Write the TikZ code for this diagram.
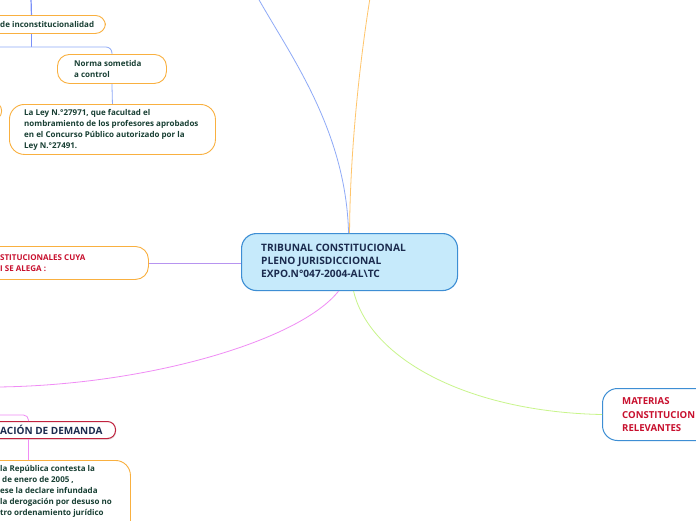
\documentclass[tikz,border=0pt]{standalone}
\usepackage{fontspec}
\setmainfont{Open Sans}
\usetikzlibrary{calc,shadows}
\definecolor{borange}{HTML}{F9B040}
\definecolor{tgreen}{HTML}{183F33}
\definecolor{tnavy}{HTML}{1B2B4E}
\definecolor{tred}{HTML}{C8102E}
\definecolor{cfill}{HTML}{C6EAFB}
\definecolor{cborder}{HTML}{3D8ED4}
\definecolor{lblue}{HTML}{8FAAF7}
\definecolor{lorange}{HTML}{FFC56B}
\definecolor{lpink}{HTML}{F08CF5}
\definecolor{lgreen}{HTML}{C8F58A}
\definecolor{lpurple}{HTML}{B794F0}
\definecolor{dred}{HTML}{C0223E}
\tikzset{
  obox/.style={draw=borange, line width=0.9pt, rounded corners=10pt, fill=white, inner sep=0pt},
  cbox/.style={draw=cborder, line width=1.1pt, rounded corners=15pt, fill=cfill, inner sep=0pt},
  mbox/.style={draw=cborder, line width=1pt, rounded corners=15pt, fill=white, inner sep=0pt},
  dbox/.style={draw=dred, line width=1pt, rounded corners=8pt, fill=white, inner sep=0pt,
     drop shadow={opacity=0.25, shadow xshift=0.6pt, shadow yshift=-1.2pt}},
  stxt/.style={font=\fontsize{8}{11}\selectfont\bfseries, text=tgreen, align=left, inner sep=0pt, anchor=west},
  rtxt/.style={font=\fontsize{8}{11}\selectfont\bfseries, text=tred, align=left, inner sep=0pt, anchor=west},
  ctxt/.style={font=\fontsize{10.2}{13}\selectfont\bfseries, text=tnavy, align=left, inner sep=0pt, anchor=west},
  mtxt/.style={font=\fontsize{9.6}{13.5}\selectfont\bfseries, text=tred, align=left, inner sep=0pt, anchor=west},
  dtxt/.style={font=\fontsize{10}{11}\selectfont\bfseries, text=tnavy, inner sep=0pt, anchor=west},
  bl/.style={draw=lblue, line width=0.8pt},
  blv/.style={draw=lblue!85!blue, line width=1.2pt},
  ol/.style={draw=lorange, line width=0.8pt},
  pl/.style={draw=lpink, line width=0.8pt},
  gl/.style={draw=lgreen, line width=0.8pt},
  ul/.style={draw=lpurple, line width=0.8pt},
}
\begin{document}
\begin{tikzpicture}[x=1pt,y=-1pt]
\useasboundingbox (0,0) rectangle (696,520);
\clip (0,0) rectangle (696,520);
\fill[white] (0,0) rectangle (696,520);

% free ends
\coordinate (topA) at (31,-2);
\coordinate (lftA) at (-2,47);
\coordinate (lftB) at (-2,415);
\coordinate (topBlue) at (258,-2);
\coordinate (topOrange) at (370,-2);
\coordinate (lftPink) at (-2,387);

% boxes
\node[obox, minimum width=148pt, minimum height=18pt, anchor=north west] (inc) at (-43,15) {};
\node[obox, minimum width=109pt, minimum height=29pt, rounded corners=12pt, anchor=north west] (norma) at (57,54) {};
\node[obox, minimum width=206pt, minimum height=50pt, rounded corners=15pt, anchor=north west] (ley) at (9,104) {};
\node[obox, minimum width=70pt, minimum height=17pt, rounded corners=8pt, anchor=north east] (prev) at (2,102) {};
\node[obox, minimum width=208pt, minimum height=33pt, rounded corners=13pt, anchor=north west] (normas) at (-60,246) {};
\node[cbox, minimum width=216pt, minimum height=57pt, anchor=north west] (central) at (241,233) {};
\node[mbox, minimum width=130pt, minimum height=52pt, anchor=north west] (mat) at (602,388) {};
\node[dbox, minimum width=174pt, minimum height=17pt, anchor=north west] (dem) at (-59,421) {};
\node[obox, minimum width=204pt, minimum height=100pt, rounded corners=15pt, anchor=north west] (cont) at (-74,460) {};

% texts
\node[stxt] (incT) at (0,24) {de inconstitucionalidad};
\node[stxt] (normaT) at (74,69) {Norma sometida\\a control};
\node[stxt] (leyT) at (24,130) {La Ley N.°27971, que facultad el\\nombramiento de los profesores aprobados\\en el Concurso Público autorizado por la\\Ley N.°27491.};
\node[rtxt] (normasT) at (0,263) {STITUCIONALES CUYA\\I SE ALEGA :};
\node[ctxt] (centralT) at (261,261) {TRIBUNAL CONSTITUCIONAL\\PLENO JURISDICCIONAL\\EXPO.N°047-2004-AL\textbackslash TC};
\node[mtxt] (matT) at (622,415) {MATERIAS\\CONSTITUCION\\RELEVANTES};
\node[dtxt] (demT) at (0,430) {ACIÓN DE DEMANDA};
\node[stxt] (contT) at (0,491) {la República contesta la\\\hspace*{2pt}de enero de 2005 ,\\ese la declare infundada\\la derogación por desuso no\\tro ordenamiento jurídico};

% connectors
\draw[blv] (topA) -- (inc.north);
\draw[blv] (inc.south) -- (inc.south |- lftA);
\draw[bl, rounded corners=6pt] (lftA) -| (norma.north);
\draw[bl] (norma.south) -- (ley.north);
\draw[ul] (normas.east) -- (normas.east -| central.west);
\draw[bl] ($(central.north)+(-1,0)$) .. controls (346,130) and (290,55) .. (topBlue);
\draw[ol] (central.north) .. controls (350,150) and (360,60) .. (topOrange);
\draw[pl] ($(central.south)+(-11,0)$) .. controls (300,340) and (150,385) .. (lftPink);
\draw[gl] ($(central.south)+(4,0)$) .. controls (370,360) and (470,412) .. (mat.west);
\draw[pl, rounded corners=5pt] (lftB) -| (dem.north);
\draw[pl] (dem.south) -- (cont.north);
\end{tikzpicture}
\end{document}
